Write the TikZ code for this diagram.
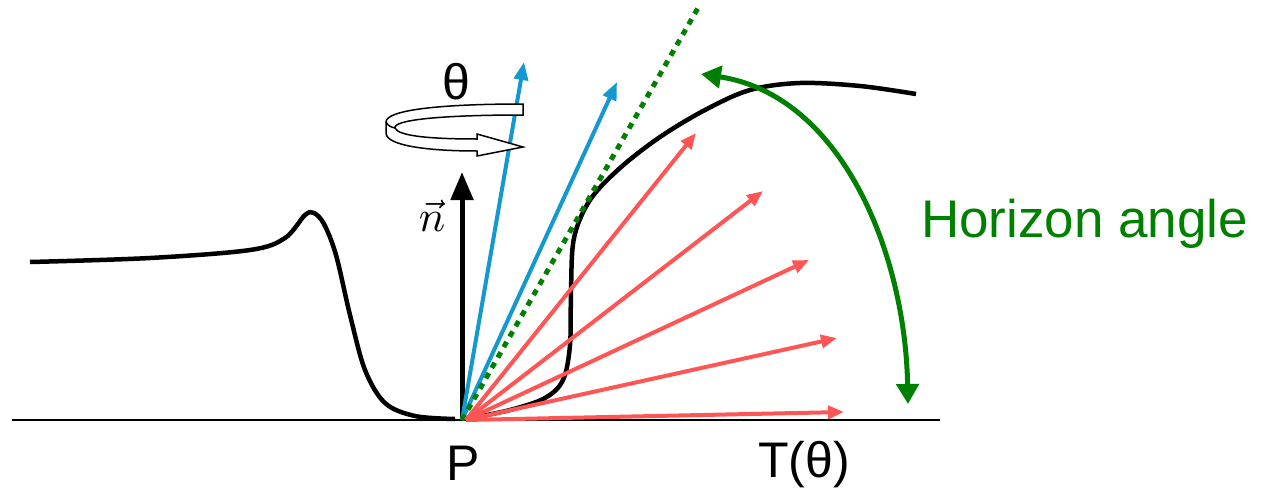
\documentclass[tikz,border=0pt]{standalone}
\usepackage{fontspec}
\usepackage{graphicx}
\setmainfont{Liberation Sans}
\usetikzlibrary{arrows.meta}
\definecolor{skyblue}{RGB}{20,152,208}
\definecolor{salmonred}{RGB}{255,85,85}
\definecolor{hgreen}{RGB}{0,128,0}
\tikzset{
  bluearrow/.style={draw=skyblue,line width=4pt,-{Triangle[length=18pt,width=14pt]}},
  redarrow/.style={draw=salmonred,line width=4pt,-{Triangle[length=16pt,width=13pt]}},
  lbl/.style={font=\fontsize{50}{50}\selectfont,inner sep=0pt},
}
\begin{document}
\begin{tikzpicture}[x=1pt,y=-1pt]
\useasboundingbox (0,0) rectangle (1261,490);
% ground
\coordinate (gl) at (12,420);
\coordinate (gr) at (940,420);
\draw[line width=2pt] (gl) -- (gr);
% terrain
\draw[line width=4.5pt,line join=round] plot[smooth,tension=0.55] coordinates {
 (30,262) (150,258) (250,250) (285,238) (305,215) (314,213) (324,224) (336,255) (350,315) (365,370) (385,403) (415,416) (455,419)};
\draw[line width=4.5pt,line join=round] plot[smooth,tension=0.55] coordinates {
 (466,419) (510,410) (545,398) (563,380) (570,345) (571,290) (574,238) (590,200) (620,168) (660,137) (705,110) (750,90) (800,83) (860,86) (916,94)};
% point P
\coordinate (P) at (462,420);
\coordinate (Pr) at (466,420);
% normal
\coordinate (ntip) at (462,172);
\draw[line width=5pt,-{Triangle[length=28pt,width=22pt]}] (P) -- (ntip);
\node[inner sep=0pt] (nlbl) at (432,216) {\scalebox{4.4}{$\vec{n}$}};
% blue arrows
\coordinate (b1) at (524,62);
\coordinate (b2) at (617,82);
\draw[bluearrow] (P) -- (b1);
\draw[bluearrow] (P) -- (b2);
% dotted horizon line
\coordinate (hz) at (698,8);
\draw[hgreen,line width=5pt,dash pattern=on 6pt off 6pt] (P) -- (hz);
% red arrows
\coordinate (r1) at (696,133);
\coordinate (r2) at (763,191);
\coordinate (r3) at (809,260);
\coordinate (r4) at (837,338);
\coordinate (r5) at (844,412);
\foreach \t in {r1,r2,r3,r4,r5} \draw[redarrow] (Pr) -- (\t);
% horizon angle arc
\coordinate (ha) at (701,74);
\coordinate (hb) at (908,404);
\draw[hgreen,line width=5pt,{Triangle[length=20pt,width=22pt]}-{Triangle[length=20pt,width=22pt]}]
  (ha) .. controls (840,95) and (905,250) .. (hb);
\node[inner sep=0pt,font=\fontsize{53}{53}\selectfont,text=hgreen,anchor=west] (hlbl) at (921,224) {Horizon angle};
% rotation ribbon
\draw[fill=white,line width=1.5pt,line join=miter]
  (523,104) .. controls (440,104) and (386,110) .. (386,122)
  -- (386,133) .. controls (386,146) and (430,151) .. (477,151)
  -- (477,156) -- (523,147) -- (477,134) -- (477,139)
  .. controls (430,139) and (398,136) .. (395,128)
  .. controls (393,120) and (440,115) .. (523,115) -- cycle;
\draw[line width=1.5pt] (386,122) .. controls (388,126) and (391,127) .. (395,128);
\node[lbl] (theta) at (456,82) {θ};
% labels
\node[lbl] (plbl) at (463,463) {P};
\node[lbl] (tlbl) at (804,465) {T(θ)};
\end{tikzpicture}
\end{document}
